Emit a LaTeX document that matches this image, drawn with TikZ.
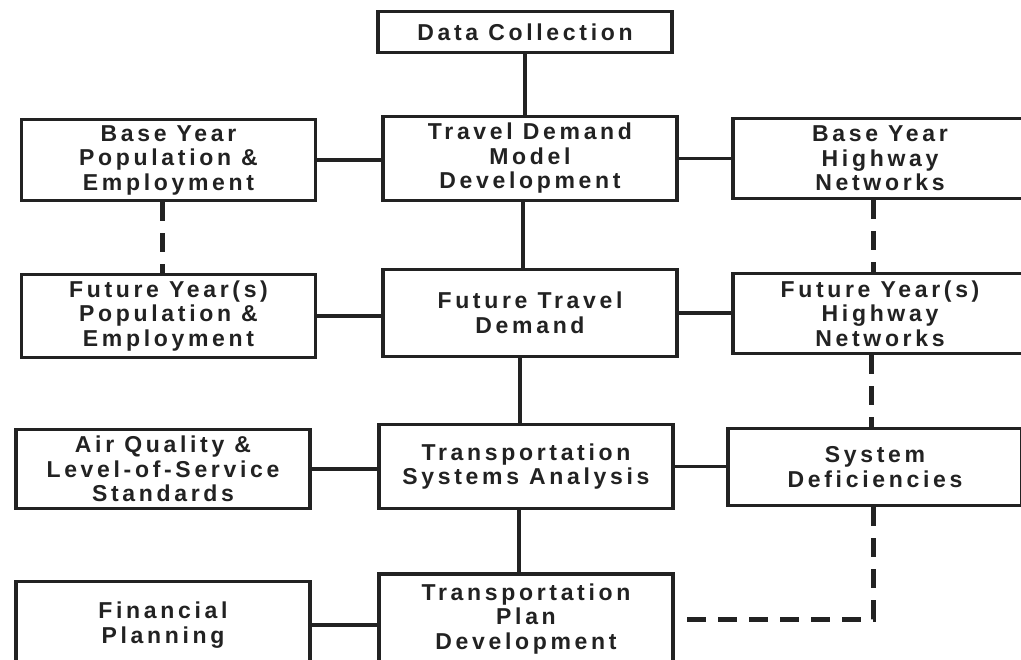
\documentclass[tikz,border=0pt]{standalone}
\usepackage{fontspec}
\newfontfamily\boxfont{Liberation Sans}[LetterSpace=16]
\definecolor{ink}{RGB}{34,34,34}

\begin{document}
\begin{tikzpicture}[x=1pt,y=-1pt]
\tikzstyle{every node}+=[inner sep=0pt]
\tikzstyle{box}=[draw=ink,line width=3.8pt,rectangle,align=center,text=ink,
  font=\boxfont\bfseries\fontsize{23}{24.5}\selectfont,minimum width=294pt]
\tikzstyle{link}=[draw=ink,line width=3.6pt]
\tikzstyle{dashlink}=[link,line width=5pt,dash pattern=on 19pt off 12pt]
\useasboundingbox (0,0) rectangle (1021,660);
\fill [white] (0,0) rectangle (1021,660);
% centre column
\node [box,minimum height=41pt] (data) at (525,32) {Data Collection};
\node [box,minimum height=84pt] (tdm) at (530,158.5) {Travel Demand\\Model\\Development};
\node [box,minimum height=87pt] (ftd) at (530,313) {Future Travel\\Demand};
\node [box,minimum height=84pt] (tsa) at (526,466.5) {Transportation\\Systems Analysis};
\node [box,minimum height=90pt] (tpd) at (526,619) {Transportation\\Plan\\Development};
% left column
\node [box,minimum height=81pt] (bpop) at (168.5,160) {Base Year\\Population \&\\Employment};
\node [box,minimum height=83pt] (fpop) at (168.5,316) {Future Year(s)\\Population \&\\Employment};
\node [box,minimum height=79pt] (airq) at (163,469) {Air Quality \&\\Level-of-Service\\Standards};
\node [box,minimum height=87pt] (fin) at (163,625) {Financial\\Planning};
% right column
\node [box,minimum height=80pt] (bhwy) at (880,158.5) {Base Year\\Highway\\Networks};
\node [box,minimum height=80pt] (fhwy) at (880,313.5) {Future Year(s)\\Highway\\Networks};
\node [box,minimum height=77pt] (sysd) at (875,467) {System\\Deficiencies};
% solid connectors
\draw [link] (data.south) -- (data.south |- tdm.north);
\draw [link] (ftd.north -| 523,0) -- (tdm.south -| 523,0);
\draw [link] (ftd.south -| 520,0) -- (tsa.north -| 520,0);
\draw [link] (tsa.south -| 519,0) -- (tpd.north -| 519,0);
\draw [link] (bpop.east) -- (bpop.east -| tdm.west);
\draw [link] (tdm.east) -- (tdm.east -| bhwy.west);
\draw [link] (fpop.east) -- (fpop.east -| ftd.west);
\draw [link] (ftd.east) -- (ftd.east -| fhwy.west);
\draw [link] (airq.east) -- (airq.east -| tsa.west);
\draw [link] (tsa.east) -- (tsa.east -| sysd.west);
\draw [link] (fin.east) -- (fin.east -| tpd.west);
% dashed connectors
\draw [dashlink] (bpop.south -| 162,0) -- (fpop.north -| 162,0);
\draw [dashlink] (bhwy.south -| 873,0) -- (fhwy.north -| 873,0);
\draw [dashlink] (fhwy.south -| 871,0) -- (sysd.north -| 871,0);
\draw [dashlink] (sysd.south -| 873,0) -- (tpd.east -| 873,0) -- (tpd.east);
\end{tikzpicture}
\end{document}
